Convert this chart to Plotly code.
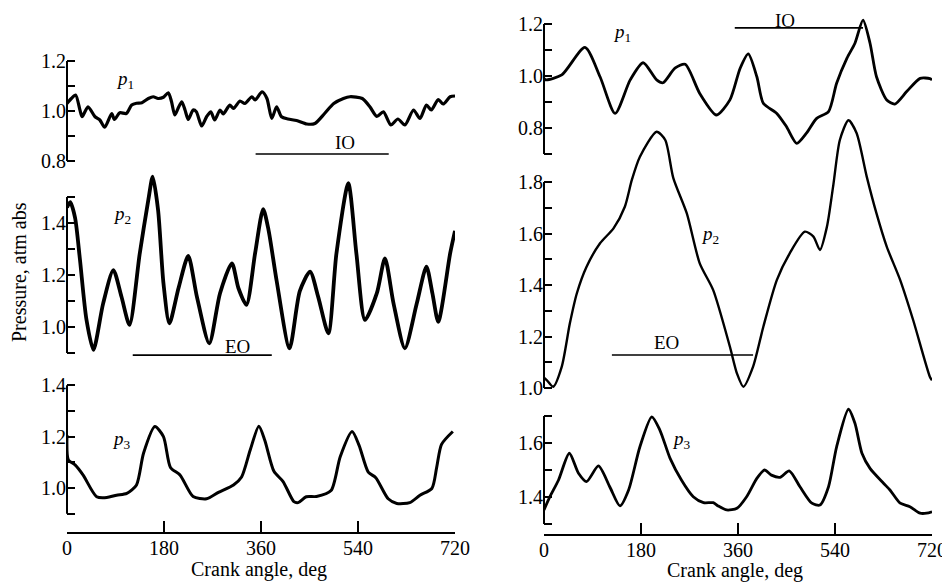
import plotly.graph_objects as go

# ---------------- data (crank angle deg, pressure atm abs) ----------------
L_p1_deg = [0, 8, 16, 24, 28, 39, 52, 61, 70, 83, 88, 98, 110, 120, 129, 139, 151, 160, 169, 179,
            188, 194, 200, 206, 213, 219, 225, 234, 240, 250, 259, 267, 274, 284, 290, 302, 309, 321,
            330, 343, 349, 362, 371, 380, 389, 398, 410, 426, 445, 460, 478, 495, 513, 525, 548, 562,
            575, 587, 601, 614, 627, 643, 655, 667, 676, 689, 698, 711, 720]
L_p1_val = [1.03, 1.05, 1.064, 1.004, 0.977, 1.017, 0.977, 0.964, 0.935, 0.99, 0.966, 0.993, 0.99,
            1.024, 1.031, 1.033, 1.05, 1.057, 1.05, 1.055, 1.073, 1.037, 0.984, 1.01, 1.037, 1.004,
            0.966, 1.004, 0.997, 0.94, 0.977, 0.997, 0.964, 1.004, 0.988, 1.024, 1.01, 1.04, 1.03,
            1.057, 1.044, 1.077, 1.05, 0.97, 1.017, 0.977, 0.968, 0.962, 0.948, 0.95, 0.99, 1.03,
            1.05, 1.057, 1.05, 1.017, 0.978, 0.997, 0.944, 0.968, 0.944, 1.004, 0.97, 1.024, 1.004,
            1.046, 1.028, 1.057, 1.06]

L_p2_deg = [0, 6, 15, 24, 36, 49, 67, 86, 101, 116, 135, 151, 159, 169, 179, 190, 207, 225, 241,
            264, 284, 306, 318, 333, 349, 364, 374, 389, 413, 432, 451, 466, 485, 500, 522, 537, 553,
            575, 590, 606, 627, 649, 667, 678, 689, 711, 720]
L_p2_val = [1.46, 1.48, 1.42, 1.26, 1.03, 0.912, 1.09, 1.219, 1.117, 1.008, 1.283, 1.49, 1.578,
            1.45, 1.168, 1.014, 1.15, 1.273, 1.117, 0.937, 1.13, 1.245, 1.15, 1.085, 1.283, 1.453,
            1.373, 1.178, 0.918, 1.138, 1.213, 1.117, 0.976, 1.283, 1.553, 1.283, 1.027, 1.13, 1.264,
            1.09, 0.918, 1.09, 1.232, 1.13, 1.02, 1.283, 1.37]

L_p3_deg = [0, 2.5, 15, 30, 55, 74, 92, 111, 129, 142, 163, 179, 192, 210, 234, 259, 281, 309, 324,
            340, 356, 367, 384, 401, 421, 429, 444, 463, 490, 507, 529, 542, 559, 573, 596, 612, 636,
            655, 677, 686, 695, 716]
L_p3_val = [1.206, 1.109, 1.09, 1.05, 0.966, 0.963, 0.972, 0.979, 1.012, 1.135, 1.239, 1.2, 1.08,
            1.05, 0.967, 0.958, 0.983, 1.012, 1.043, 1.148, 1.24, 1.186, 1.065, 1.025, 0.947, 0.943,
            0.966, 0.967, 0.99, 1.122, 1.22, 1.166, 1.062, 1.04, 0.958, 0.94, 0.943, 0.972, 0.998,
            1.08, 1.17, 1.22]

R_p1_deg = [0, 4, 33, 76, 104, 132, 160, 184, 209, 221, 243, 262, 289, 320, 345, 364, 379, 395, 407,
            432, 450, 469, 487, 506, 528, 543, 562, 577, 592, 605, 617, 636, 651, 673, 698, 716, 720]
R_p1_val = [0.99, 0.985, 1.004, 1.11, 0.997, 0.856, 0.985, 1.051, 0.985, 0.974, 1.03, 1.045, 0.933,
            0.85, 0.908, 1.03, 1.085, 0.997, 0.895, 0.856, 0.805, 0.741, 0.78, 0.837, 0.863, 0.972,
            1.068, 1.126, 1.215, 1.126, 0.997, 0.908, 0.892, 0.94, 0.991, 0.99, 0.985]

R_p2_deg = [0, 5, 17, 33, 48, 61, 79, 104, 129, 150, 163, 178, 209, 225, 240, 265, 289, 314, 345,
            358, 370, 388, 407, 432, 456, 484, 500, 512, 525, 537, 549, 565, 580, 599, 617, 636, 661,
            685, 716, 720]
R_p2_val = [1.04, 1.031, 1.005, 1.083, 1.251, 1.368, 1.471, 1.562, 1.62, 1.704, 1.808, 1.898, 1.995,
            1.963, 1.815, 1.678, 1.484, 1.38, 1.16, 1.057, 1.005, 1.083, 1.238, 1.419, 1.523, 1.607,
            1.588, 1.536, 1.626, 1.79, 1.963, 2.04, 1.99, 1.82, 1.678, 1.549, 1.419, 1.264, 1.044,
            1.03]

R_p3_deg = [0, 11, 27, 47, 64, 79, 101, 122, 141, 157, 178, 200, 215, 234, 255, 277, 296, 314, 323,
            339, 358, 376, 395, 409, 422, 438, 455, 475, 497, 512, 528, 543, 565, 577, 590, 605, 630,
            642, 661, 679, 698, 710, 720]
R_p3_val = [1.352, 1.401, 1.463, 1.562, 1.488, 1.457, 1.515, 1.438, 1.367, 1.426, 1.586, 1.697,
            1.648, 1.543, 1.463, 1.401, 1.379, 1.379, 1.367, 1.352, 1.358, 1.401, 1.469, 1.5, 1.481,
            1.473, 1.497, 1.438, 1.377, 1.37, 1.438, 1.586, 1.725, 1.673, 1.562, 1.506, 1.451, 1.426,
            1.377, 1.364, 1.34, 1.34, 1.345]

x_ticks = [0, 180, 360, 540, 720]

# valve-open periods  [start deg, end deg, level], label position [deg, level]
L_IO = [350, 597, 0.828]; L_IO_lab = [516, 0.874]
L_EO = [122, 380, 0.892]; L_EO_lab = [317, 0.926]
R_IO = [354, 592, 1.185]; R_IO_lab = [447, 1.213]
R_EO = [126, 388, 1.128]; R_EO_lab = [228, 1.178]

# ---------------- layout helpers ----------------
W, H = 950, 582
OFF = 8          # page body margin of the html page
FONT = "Liberation Serif"
FS = 20

def fx(px):
    return (px - OFF) / W

def fy(py):
    return 1 - (py - OFF) / H

# (ref value, ref pixel y, px per unit, axis lo, axis hi, labelled values, draw lo, draw hi)
specs = {
    "y":  (1.0, 111, 250.0, 0.8, 1.2, [0.8, 1.0, 1.2], 0.75, 1.3),
    "y2": (1.0, 327, 260.0, 0.9, 1.5, [1.0, 1.2, 1.4], 0.85, 1.65),
    "y3": (1.0, 488, 257.0, 0.9, 1.4, [1.0, 1.2, 1.4], 0.88, 1.45),
    "y4": (1.0, 76, 260.0, 0.7, 1.2, [0.8, 1.0, 1.2], 0.68, 1.26),
    "y5": (1.0, 388, 257.5, 1.0, 1.8, [1.0, 1.2, 1.4, 1.6, 1.8], 0.95, 2.12),
    "y6": (1.4, 497, 270.0, 1.3, 1.7, [1.4, 1.6], 1.28, 1.76),
}

def py_of(spec, v):
    vref, pref, k = spec[0], spec[1], spec[2]
    return pref - k * (v - vref)

fig = go.Figure()

line_w = {"y": 3.2, "y2": 3.8, "y3": 3.0, "y4": 2.8, "y5": 2.4, "y6": 2.8}
series = [
    ("x", "y", L_p1_deg, L_p1_val),
    ("x", "y2", L_p2_deg, L_p2_val),
    ("x", "y3", L_p3_deg, L_p3_val),
    ("x2", "y4", R_p1_deg, R_p1_val),
    ("x2", "y5", R_p2_deg, R_p2_val),
    ("x2", "y6", R_p3_deg, R_p3_val),
]
for xa, ya, xs, ys in series:
    fig.add_trace(go.Scatter(x=xs, y=ys, xaxis=xa, yaxis=ya, mode="lines",
                             line=dict(color="black", width=line_w[ya], shape="spline", smoothing=0.7),
                             hoverinfo="skip", showlegend=False))

layout = dict(width=W, height=H, margin=dict(l=0, r=0, t=0, b=0, pad=0, autoexpand=False),
              paper_bgcolor="white", plot_bgcolor="rgba(0,0,0,0)",
              font=dict(family=FONT, size=FS, color="black"))

def xaxis_cfg(x0px, x1px, ypx):
    return dict(domain=[fx(x0px), fx(x1px)], range=[0, 720], anchor="free",
                position=fy(ypx), showline=True, linecolor="black", linewidth=2,
                ticks="inside", ticklen=11, tickwidth=2, tickcolor="black",
                tickvals=x_ticks, ticktext=[str(t) for t in x_ticks], automargin=False,
                ticklabelstandoff=-3,
                showgrid=False, zeroline=False, tickfont=dict(family=FONT, size=FS))

layout["xaxis"] = xaxis_cfg(67, 455, 533)
layout["xaxis2"] = xaxis_cfg(544, 932, 535)

shapes = []
for name, sp in specs.items():
    vref, pref, k, lo, hi, labs, dlo, dhi = sp
    d0 = fy(py_of(sp, dlo))
    d1 = fy(py_of(sp, dhi))
    n = int(round((hi - lo) / 0.1))
    allv = [round(lo + 0.1 * i, 2) for i in range(n + 1)]
    minor_v = [t for t in allv if not any(abs(t - l) < 1e-6 for l in labs)]
    xa = "x" if name in ("y", "y2", "y3") else "x2"
    layout["yaxis" if name == "y" else "yaxis" + name[1:]] = dict(
        domain=[d0, d1], range=[dlo, dhi], anchor=xa, showline=False, automargin=False,
        ticks="inside", ticklen=8, tickwidth=2, tickcolor="black",
        tickvals=labs, ticktext=["%.1f" % l for l in labs],
        minor=dict(ticks="inside", ticklen=8, tickwidth=2, tickcolor="black",
                   tickvals=minor_v, showgrid=False),
        showgrid=False, zeroline=False, tickfont=dict(family=FONT, size=FS))
    shapes.append(dict(type="line", xref=xa + " domain", yref=name, x0=0, x1=0, y0=lo, y1=hi,
                       line=dict(color="black", width=2)))

for xa, ya, seg in [("x", "y", L_IO), ("x", "y2", L_EO), ("x2", "y4", R_IO), ("x2", "y5", R_EO)]:
    shapes.append(dict(type="line", xref=xa, yref=ya, x0=seg[0], x1=seg[1], y0=seg[2], y1=seg[2],
                       line=dict(color="black", width=1.6)))
layout["shapes"] = shapes

ann = []
for xa, ya, pos, txt in [("x", "y", L_IO_lab, "IO"), ("x", "y2", L_EO_lab, "EO"),
                         ("x2", "y4", R_IO_lab, "IO"), ("x2", "y5", R_EO_lab, "EO")]:
    ann.append(dict(x=pos[0], y=pos[1], xref=xa, yref=ya, text=txt, showarrow=False,
                    xanchor="center", yanchor="middle", borderpad=0,
                    font=dict(family=FONT, size=FS - 1)))

plabels = [("x", "y", 108, 1.124, "1"), ("x", "y2", 102, 1.43, "2"), ("x", "y3", 102, 1.187, "3"),
           ("x2", "y4", 145, 1.165, "1"), ("x2", "y5", 308, 1.594, "2"), ("x2", "y6", 256, 1.611, "3")]
for xa, ya, xv, yv, s in plabels:
    ann.append(dict(x=xv, y=yv, xref=xa, yref=ya, text="<i>p</i><sub>%s</sub>" % s,
                    xanchor="center", yanchor="middle",
                    showarrow=False, font=dict(family=FONT, size=FS - 1)))

ann.append(dict(x=fx(259), y=fy(569), xref="paper", yref="paper", text="Crank angle, deg",
                xanchor="center", yanchor="middle", showarrow=False, font=dict(family=FONT, size=FS)))
ann.append(dict(x=fx(735), y=fy(570), xref="paper", yref="paper", text="Crank angle, deg",
                xanchor="center", yanchor="middle", showarrow=False, font=dict(family=FONT, size=FS)))
ann.append(dict(x=fx(19), y=fy(272), xref="paper", yref="paper", text="Pressure, atm abs",
                xanchor="center", yanchor="middle",
                textangle=-90, showarrow=False, font=dict(family=FONT, size=FS)))
layout["annotations"] = ann

fig.update_layout(**layout)
fig.write_html("out.html")
